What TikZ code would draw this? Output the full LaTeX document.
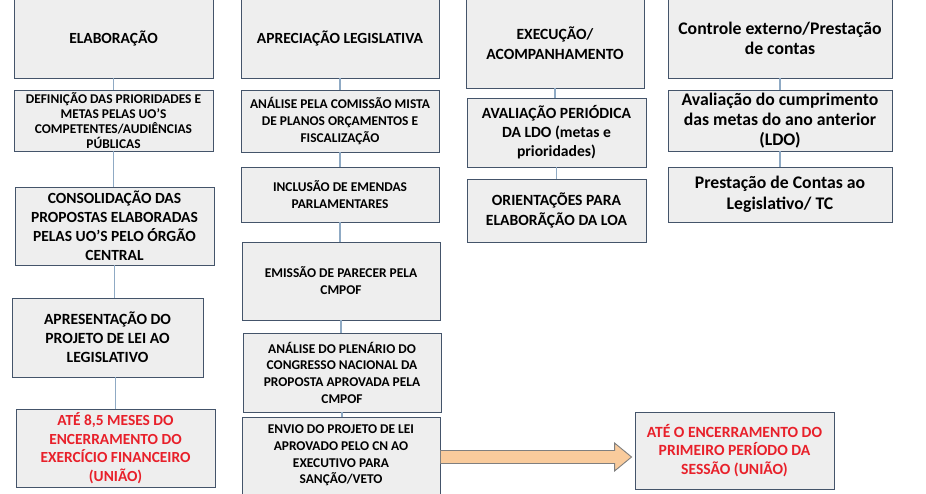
\documentclass[tikz,border=0pt]{standalone}
\usepackage{fontspec}
\setmainfont{Carlito}
\usetikzlibrary{calc}
\definecolor{bordc}{HTML}{44546A}
\definecolor{boxfill}{HTML}{EEEEEE}
\definecolor{linec}{HTML}{8FAAC4}
\definecolor{redtxt}{HTML}{E8202A}
\definecolor{arrfill}{HTML}{F9CB9C}
\definecolor{arrdraw}{HTML}{7F7F7F}
\newcommand{\fs}[2]{\fontsize{#1}{#2}\selectfont}
\tikzset{
  box/.style={draw=bordc, fill=boxfill, line width=0.9pt, align=center, inner sep=0pt},
  fz/.style 2 args={font=\bfseries\fs{#1}{#2}},
  conn/.style={draw=linec, line width=1.3pt},
  arr/.style={draw=arrdraw, fill=arrfill, line width=0.9pt, line join=miter},
}
\begin{document}
\begin{tikzpicture}[x=1pt,y=-1pt]
\useasboundingbox[fill=white] (0,0) rectangle (926,493);
% column 1
\node[box, fz={15.5}{18}, minimum width=199, minimum height=79] (elab) at (113.5,38.5) {ELABORAÇÃO};
\node[box, fz={13.4}{15}, minimum width=199, minimum height=61] (def) at (113.5,120.5) {DEFINIÇÃO DAS PRIORIDADES E\\METAS PELAS UO’S\\COMPETENTES/AUDIÊNCIAS\\PÚBLICAS};
\node[box, fz={15.5}{19}, minimum width=199, minimum height=78] (cons) at (114.5,226) {CONSOLIDAÇÃO DAS\\PROPOSTAS ELABORADAS\\PELAS UO’S PELO ÓRGÃO\\CENTRAL};
\node[box, fz={15.6}{19}, minimum width=191, minimum height=79] (apres) at (107.5,337.5) {APRESENTAÇÃO DO\\PROJETO DE LEI AO\\LEGISLATIVO};
\node[box, fz={15.4}{18.5}, minimum width=199, minimum height=78, text=redtxt] (ate) at (115.5,448) {ATÉ 8,5 MESES DO\\ENCERRAMENTO DO\\EXERCÍCIO FINANCEIRO\\(UNIÃO)};
% column 2
\node[box, fz={15.5}{18}, minimum width=198, minimum height=79] (aprec) at (340,38.5) {APRECIAÇÃO LEGISLATIVA};
\node[box, fz={13.4}{17}, minimum width=198, minimum height=62] (anal) at (340,121) {ANÁLISE PELA COMISSÃO MISTA\\DE PLANOS ORÇAMENTOS E\\FISCALIZAÇÃO};
\node[box, fz={13.4}{17}, minimum width=198, minimum height=55] (incl) at (340,194.5) {INCLUSÃO DE EMENDAS\\PARLAMENTARES};
\node[box, fz={13.4}{17}, minimum width=198, minimum height=78] (emis) at (341,281) {EMISSÃO DE PARECER PELA\\CMPOF};
\node[box, fz={13.4}{16.7}, minimum width=198, minimum height=79] (plen) at (342,372.5) {ANÁLISE DO PLENÁRIO DO\\CONGRESSO NACIONAL DA\\PROPOSTA APROVADA PELA\\CMPOF};
\node[box, fz={13.4}{16.7}, minimum width=198, minimum height=77] (envio) at (341,455.5) {ENVIO DO PROJETO DE LEI\\APROVADO PELO CN AO\\EXECUTIVO PARA\\SANÇÃO/VETO};
% column 3
\node[box, fz={15.6}{20}, minimum width=178, minimum height=89] (exec) at (555,43.5) {EXECUÇÃO/\\ACOMPANHAMENTO};
\node[box, fz={15.6}{19}, minimum width=179, minimum height=69] (aval) at (556.5,132.5) {AVALIAÇÃO PERIÓDICA\\DA LDO (metas e\\prioridades)};
\node[box, fz={15.6}{20}, minimum width=179, minimum height=63] (orient) at (556.5,210.5) {ORIENTAÇÕES PARA\\ELABORÃÇÃO DA LOA};
% column 4
\node[box, fz={17.7}{20}, minimum width=224, minimum height=79] (ctrl) at (780,38.5) {Controle externo/Prestação\\de contas};
\node[box, fz={17.7}{20}, minimum width=224, minimum height=61] (cump) at (780,120.5) {Avaliação do cumprimento\\das metas do ano anterior\\(LDO)};
\node[box, fz={17.7}{20.5}, minimum width=224, minimum height=55] (prest) at (780,194.5) {Prestação de Contas ao\\Legislativo/ TC};
% red box
\node[box, fz={15.6}{18.5}, minimum width=199, minimum height=77, text=redtxt] (red) at (734.5,450.5) {ATÉ O ENCERRAMENTO DO\\PRIMEIRO PERÍODO DA\\SESSÃO (UNIÃO)};
% connectors
\draw[conn] (elab.south) -- (elab.south |- def.north);
\draw[conn] (def.south) -- (def.south |- cons.north);
\draw[conn] (cons.south) -- (cons.south |- apres.north);
\draw[conn] (ate.north) -- (ate.north |- apres.south);
\draw[conn] (aprec.south) -- (aprec.south |- anal.north);
\draw[conn] (anal.south) -- (anal.south |- incl.north);
\draw[conn] (incl.south) -- (incl.south |- emis.north);
\draw[conn] (emis.south) -- (emis.south |- plen.north);
\draw[conn] (plen.south) -- (plen.south |- envio.north);
\draw[conn] (exec.south) -- (exec.south |- aval.north);
\draw[conn] (aval.south) -- (aval.south |- orient.north);
\draw[conn] (ctrl.south) -- (ctrl.south |- cump.north);
\draw[conn] (cump.south) -- (cump.south |- prest.north);
% big arrow
\coordinate (rw) at (red.west |- envio.east);
\draw[arr] ($(envio.east)+(0,-5)$) -- ($(rw)+(-20,-5)$) -- ($(rw)+(-20,-12.5)$) -- ($(rw)+(-3,1.5)$) -- ($(rw)+(-20,15.5)$) -- ($(rw)+(-20,8)$) -- ($(envio.east)+(0,8)$) -- cycle;
\end{tikzpicture}
\end{document}
